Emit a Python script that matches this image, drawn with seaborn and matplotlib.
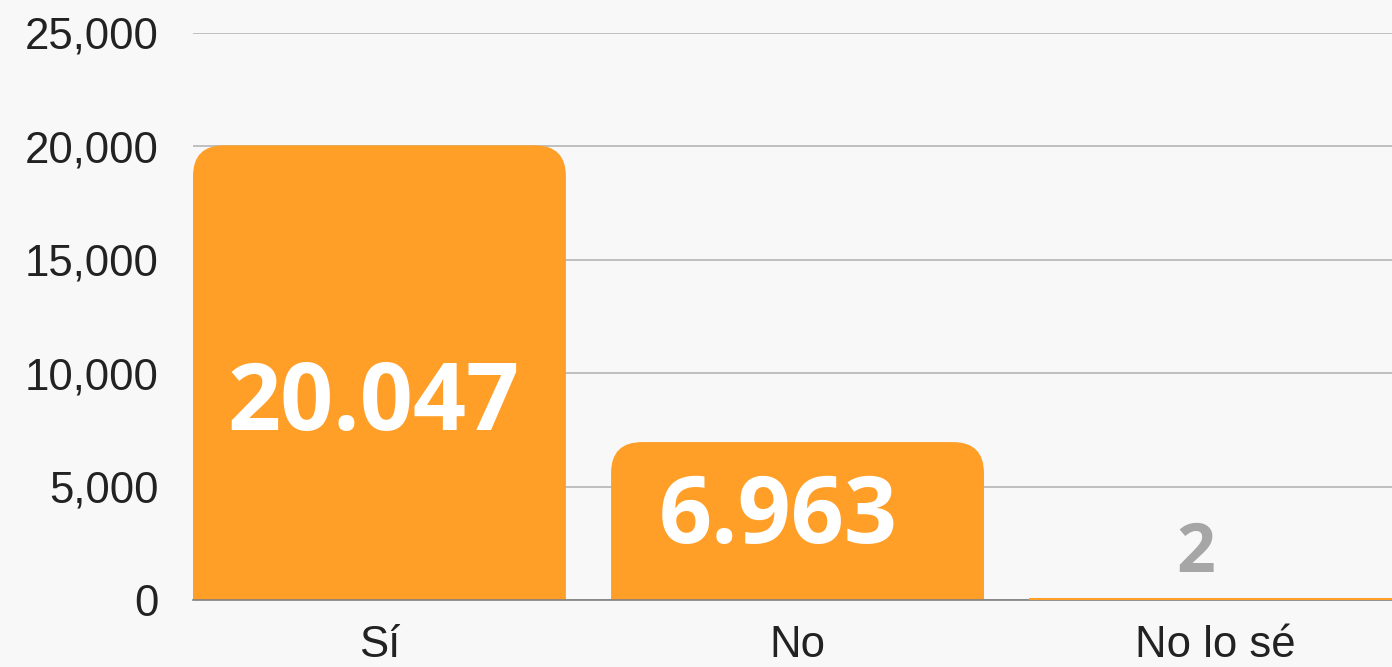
import matplotlib
matplotlib.use("Agg")
import matplotlib.pyplot as plt
import seaborn as sns
from matplotlib.patches import FancyBboxPatch, Rectangle
from matplotlib.ticker import FuncFormatter

categories = ["Sí", "No", "No lo sé"]
counts = [20047, 6963, 2]
count_labels = ["20.047", "6.963", "2"]

bar_color = "#ff9f27"
bg = "#f8f8f8"

sns.set_theme(style="whitegrid")
plt.rcParams['font.family'] = ['Liberation Sans', 'DejaVu Sans']

W, H = 1392, 667
fig = plt.figure(figsize=(W / 100, H / 100), dpi=100, facecolor=bg)
ax = fig.add_axes([193 / W, 1 - 600 / H, 1 - 193 / W, (600 - 33) / H])
ax.set_facecolor(bg)

sns.barplot(x=categories, y=counts, color=bar_color, width=0.892,
            saturation=1, ax=ax, zorder=2)
ax.set_xlim(-0.446, 2.422)
ax.set_ylim(0, 25000)

# rounded tops: radius ~30px, converted to data units on each axis
px_x = 1199 / (2.422 + 0.446)
px_y = 567 / 25000
rx, ry = 31 / px_x, 31 / px_y
for p in list(ax.patches):
    x0, w, h = p.get_x(), p.get_width(), p.get_height()
    p.remove()
    if h > 2 * ry:
        ax.add_patch(FancyBboxPatch((x0, -ry), w, h + ry,
                                    boxstyle=f"round,pad=0,rounding_size={rx}",
                                    mutation_aspect=ry / rx, fc=bar_color,
                                    ec="none", clip_on=True, zorder=2))
    else:
        # tiny bar: keep a thin visible strip sitting on the axis
        ax.add_patch(Rectangle((x0, 0), w, max(h, 2.5 / px_y), fc=bar_color,
                               ec="none", zorder=5, clip_on=False))

# value labels (baseline heights / x nudges)
label_y = [7500, 2530, 1240]
label_dx = [-0.014, -0.047, -0.048]
label_size = [67, 67, 49]
label_color = ["white", "white", "#a6a6a6"]
for i, lab in enumerate(count_labels):
    ax.text(i + label_dx[i], label_y[i], lab, ha="center", va="baseline",
            fontfamily="Open Sans", fontweight="bold", fontsize=label_size[i],
            color=label_color[i], zorder=3)

ax.set_yticks(range(0, 25001, 5000))
ax.yaxis.set_major_formatter(FuncFormatter(lambda v, _: f"{int(v):,}"))
ax.yaxis.grid(True, color="#bfbfbf", lw=1.4)
ax.xaxis.grid(False)
ax.set_axisbelow(True)
for s in ["left", "right", "top"]:
    ax.spines[s].set_visible(False)
ax.spines["bottom"].set_color("#808080")
ax.spines["bottom"].set_linewidth(1.2)
ax.spines["bottom"].set_zorder(4)
ax.tick_params(axis="y", length=0, labelsize=31.5, pad=25, labelcolor="#222222")
ax.tick_params(axis="x", length=0, labelsize=31.5, pad=18, labelcolor="#222222")
ax.set_xlabel("")
ax.set_ylabel("")

plt.savefig("out.png", dpi=100, facecolor=bg)
plt.close()
